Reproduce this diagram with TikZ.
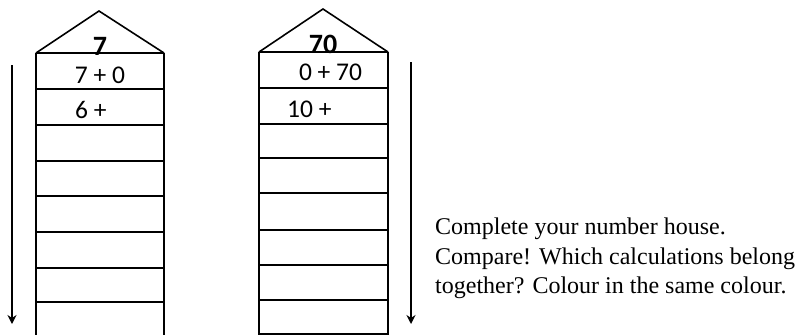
\documentclass[tikz,border=0pt]{standalone}
\usepackage{fontspec}
\setmainfont{Liberation Serif}
\newfontfamily\housefont{Carlito}
\usetikzlibrary{arrows.meta}
\begin{document}
\begin{tikzpicture}[x=1pt,y=-1pt,
  wall/.style={line width=2pt,line cap=butt},
  floorline/.style={line width=1.8pt},
  roofline/.style={line width=1.6pt,line join=miter},
  downarrow/.style={line width=2pt,-{Stealth[length=9pt,width=9pt]}},
  calc/.style={inner sep=0pt,font=\housefont\fontsize{25.5}{25.5}\selectfont},
  roofnum/.style={inner sep=0pt,anchor=base,font=\housefont\bfseries\fontsize{28}{28}\selectfont},
  task/.style={inner sep=0pt,anchor=base west,font=\fontsize{24}{30}\selectfont}]
\useasboundingbox (0,0) rectangle (795,335);
% ---- house 1 ----
\draw[roofline] (36,53) -- (99,11) -- (164,53);
\draw[wall] (36,53) -- (36,335);
\draw[wall] (164,53) -- (164,335);
\foreach \y in {53,89,125,161,196,232,268,302}
  \draw[floorline] (36,\y) -- (164,\y);
\node[roofnum] (h1) at (100,55) {7};
\node[calc,anchor=base] (h1a) at (100,83) {7 + 0};
\node[calc,anchor=base west] (h1b) at (75,118) {6 +};
% ---- house 2 ----
\draw[roofline] (259,52) -- (323,9) -- (388,52);
\draw[wall] (259,52) -- (259,335);
\draw[wall] (388,52) -- (388,335);
\foreach \y in {52,88,124,158,193,230,265,300,334}
  \draw[floorline] (259,\y) -- (388,\y);
\node[roofnum] (h2) at (323,53) {70};
\node[calc,anchor=base] (h2a) at (330.5,80) {0 + 70};
\node[calc,anchor=base west] (h2b) at (287,117) {10 +};
% ---- arrows ----
\coordinate (a1s) at (12,65);
\coordinate (a1e) at (12,324);
\coordinate (a2s) at (411,62);
\coordinate (a2e) at (411,324);
\draw[downarrow] (a1s) -- (a1e);
\draw[downarrow] (a2s) -- (a2e);
% ---- task text ----
\node[task] (t1) at (435,234) {Complete your number house.};
\node[task] (t2) at (435,264) {Compare! Which calculations belong};
\node[task] (t3) at (435,293) {together? Colour in the same colour.};
\end{tikzpicture}
\end{document}
